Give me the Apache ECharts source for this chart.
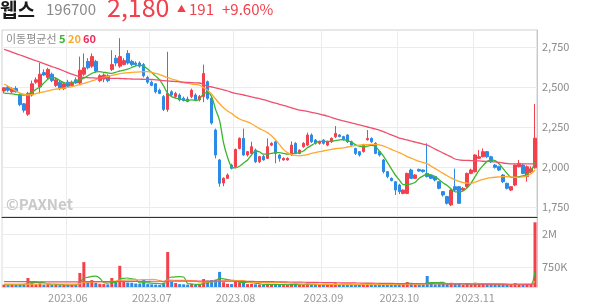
<!DOCTYPE html>
<html><head><meta charset="utf-8">
<script src="https://cdn.jsdelivr.net/npm/echarts@6/dist/echarts.min.js"></script>
<style>html,body{margin:0;padding:0;background:#fff}#c{width:594px;height:304px}</style>
</head><body><div id="c"></div>
<script>
// trading days per month (2023)
const mayDays = [9,10,11,12,15,16,17,18,19,22,23,24,25,26,30,31];
const junDays = [1,2,5,7,8,9,12,13,14,15,16,19,20,21,22,23,26,27,28,29,30];
const julDays = [3,4,5,6,7,10,11,12,13,14,17,18,19,20,21,24,25,26,27,28,31];
const augDays = [1,2,3,4,7,8,9,10,11,14,16,17,18,21,22,23,24,25,28,29,30,31];
const sepDays = [1,4,5,6,7,8,11,12,13,14,15,18,19,20,21,22,25,26,27];
const octDays = [4,5,6,10,11,12,13,16,17,18,19,20,23,24,25,26,27,30,31];
const novDays = [1,2,3,6,7,8,9,10,13,14,15,16,17,20,21,22];

const openP = [2475,2500,2470,2490,2450,2395,2330,2450,2530,2500,2590,2560,2580,2510,2530,2490,
2530,2510,2545,2525,2580,2660,2630,2660,2540,2550,2570,2610,2680,2630,2640,2710,2660,2650,2650,2640,2560,
2530,2520,2480,2440,2360,2470,2440,2450,2430,2425,2440,2450,2420,2440,2533,2430,2231,2044,1900,1929,2012,
2002,2116,2179,2075,2085,2106,2033,2065,2054,2137,2158,2075,2044,2044,2075,2148,2085,2127,2137,2200,2168,2148,
2168,2137,2158,2189,2200,2190,2200,2158,2116,2096,2096,2170,2179,2148,2096,2044,1971,1929,1908,
1887,1835,1835,1981,1929,1985,1981,1960,1950,1940,1908,1846,1815,1763,1877,1877,1856,1877,1960,
1971,2054,2064,2096,2064,2012,2002,1950,1898,1856,1887,2002,2012,1940,1970,1995];
const highP = [2500,2510,2500,2505,2460,2400,2470,2540,2560,2650,2610,2620,2590,2560,2540,2525,
2545,2540,2560,2690,2710,2680,2710,2670,2580,2585,2580,2730,2700,2805,2680,2730,2670,2660,2660,2650,2570,
2540,2525,2490,2450,2720,2480,2470,2460,2440,2440,2490,2460,2450,2640,2540,2440,2240,2050,1935,1960,2020,
2115,2185,2240,2100,2158,2115,2070,2075,2179,2155,2165,2080,2060,2060,2160,2155,2110,2155,2215,2210,2175,2165,
2175,2165,2185,2256,2205,2195,2205,2165,2120,2100,2145,2231,2185,2155,2100,2050,1975,1935,1912,
1895,1860,1965,1990,1955,1990,1985,2148,1955,1945,1912,1850,1820,1860,1990,1880,1875,1965,1990,
2080,2106,2116,2100,2070,2018,2008,1955,1902,1880,2015,2044,2020,2010,2005,2394];
const lowP = [2460,2470,2460,2465,2380,2340,2320,2440,2520,2460,2570,2550,2530,2500,2480,2480,
2500,2505,2520,2515,2570,2610,2620,2590,2530,2530,2530,2600,2630,2620,2635,2640,2630,2630,2620,2560,2520,
2505,2460,2455,2350,2345,2440,2430,2410,2410,2405,2430,2415,2410,2405,2420,2265,2054,1877,1880,1925,1985,
1995,2110,2070,2065,2080,2025,2025,2040,2050,2130,2023,2033,2040,2040,2070,2080,2080,2120,2130,2150,2140,2140,
2140,2130,2150,2180,2185,2165,2150,2130,2075,2065,2090,2165,2150,2080,2065,1960,1930,1910,1825,
1830,1830,1830,1925,1925,1970,1965,1935,1925,1910,1860,1815,1765,1755,1850,1770,1850,1870,1955,
1965,2050,2060,2055,2025,1990,1975,1900,1860,1850,1880,1998,1955,1908,1960,1990];
const closeP = [2495,2480,2490,2470,2390,2355,2460,2520,2545,2580,2575,2610,2540,2545,2490,2520,
2505,2530,2525,2605,2620,2620,2690,2600,2570,2575,2540,2640,2650,2690,2665,2650,2640,2640,2630,2570,2530,
2510,2470,2460,2360,2460,2450,2460,2420,2415,2410,2480,2420,2440,2585,2429,2275,2075,1898,1930,1950,1992,
2110,2179,2075,2096,2127,2033,2065,2044,2127,2148,2085,2054,2054,2054,2137,2085,2106,2148,2200,2158,2148,2158,
2148,2158,2179,2210,2190,2170,2158,2137,2085,2075,2137,2179,2158,2085,2075,1971,1940,1915,1856,
1846,1856,1960,1929,1950,1975,1971,1940,1929,1919,1867,1825,1773,1856,1856,1773,1867,1960,1981,
2075,2064,2096,2064,2033,1998,1981,1908,1867,1877,2012,2023,1960,2002,1989,2180];

const ma5 = [2462,2460,2457,2453,2450,2450,2455,2468,2485,2500,2525,2548,2560,2555,2540,2527,
2520,2525,2535,2544,2555,2570,2585,2595,2596,2592,2588,2585,2592,2600,2605,2612,2622,2632,2637,2630,2612,
2590,2568,2544,2505,2460,2440,2430,2425,2420,2415,2420,2415,2425,2460,2465,2440,2360,2290,2150,2060,2000,
1994,2005,2025,2044,2075,2100,2095,2080,2080,2085,2090,2090,2085,2080,2085,2085,2090,2100,2120,2135,2150,2160,
2160,2160,2160,2165,2170,2172,2165,2155,2140,2130,2125,2130,2135,2130,2100,2070,2030,1990,1950,
1920,1890,1890,1895,1905,1930,1945,1955,1950,1940,1920,1900,1885,1862,1845,1845,1850,1870,1900,
1940,1980,2010,2035,2045,2040,2020,1990,1960,1935,1935,1940,1945,1955,1975,2030];
const ma20 = [2519,2505,2490,2475,2462,2455,2450,2452,2458,2465,2470,2476,2482,2487,2490,2493,
2497,2502,2508,2515,2522,2530,2538,2546,2554,2560,2566,2572,2578,2583,2587,2590,2592,2593,2594,2596,2596,
2592,2585,2577,2568,2558,2550,2543,2535,2527,2522,2518,2515,2512,2495,2480,2455,2425,2395,2370,2350,2335,
2315,2300,2290,2282,2270,2255,2240,2228,2215,2195,2170,2140,2110,2090,2078,2072,2069,2072,2078,2085,2090,2096,
2100,2105,2110,2114,2117,2120,2125,2130,2134,2137,2139,2140,2141,2141,2138,2132,2122,2110,2100,
2090,2078,2065,2055,2045,2035,2028,2020,2005,1990,1975,1960,1945,1932,1920,1910,1903,1899,1898,
1905,1915,1923,1929,1933,1936,1938,1940,1940,1938,1936,1935,1938,1945,1958,1981];
const ma60 = [2736,2727,2718,2709,2700,2691,2682,2673,2664,2655,2646,2637,2628,2619,2610,2600,
2590,2580,2572,2564,2560,2558,2557,2556,2555,2555,2555,2554,2554,2553,2552,2551,2550,2549,2549,2548,2548,
2547,2545,2543,2540,2538,2536,2534,2532,2530,2529,2527,2526,2525,2515,2506,2500,2494,2488,2482,2475,2467,
2460,2455,2450,2444,2438,2432,2428,2421,2414,2406,2399,2392,2385,2378,2370,2363,2356,2352,2347,2342,2337,2331,
2325,2318,2310,2302,2294,2288,2282,2276,2269,2263,2257,2250,2244,2238,2231,2221,2211,2201,2191,
2181,2175,2169,2162,2156,2150,2143,2137,2125,2112,2100,2087,2075,2063,2050,2044,2042,2041,2040,
2039,2038,2036,2035,2034,2032,2029,2025,2022,2019,2019,2019,2019,2019,2019,2019];

// volume in thousands of shares
const volume = [90,70,85,75,110,120,340,160,100,140,90,110,80,90,70,80,
75,80,90,530,940,180,260,150,120,110,100,340,200,800,190,170,160,130,120,260,110,
100,90,85,160,1320,200,150,110,100,90,120,85,90,300,240,260,280,570,180,120,110,
250,180,200,110,120,100,90,80,120,90,110,80,70,75,120,100,80,90,130,100,80,75,
80,75,90,140,90,80,100,85,95,80,100,130,90,100,85,120,110,90,150,
130,100,190,130,90,80,85,415,130,100,110,120,110,160,120,130,80,120,90,
160,110,130,100,90,80,85,100,90,80,150,90,100,80,90,2440];
const volMa5 = [95,90,88,85,86,92,148,168,174,172,166,120,104,102,88,86,
79,79,79,171,343,364,400,412,330,164,148,176,174,310,326,340,304,290,154,168,156,
144,138,131,111,351,371,383,388,376,130,114,101,97,137,167,199,234,330,306,282,252,
246,182,172,170,172,142,120,100,102,96,98,94,94,85,89,89,89,93,104,100,96,95,
93,82,80,92,95,95,100,99,90,88,92,98,99,100,101,105,101,101,111,
120,116,134,140,128,118,115,160,168,162,168,175,114,120,124,128,120,122,108,
116,112,122,118,108,102,99,89,89,87,101,102,102,100,102,560];
const volMa20 = [110,110,109,109,108,108,110,112,112,114,114,115,114,114,113,112,
111,111,110,130,175,180,190,195,198,200,202,215,222,258,262,266,270,272,274,282,283,
284,283,240,195,256,257,252,250,248,247,237,232,186,191,194,199,206,229,225,230,229,
238,240,244,183,179,176,175,174,175,174,175,174,163,156,149,140,116,112,113,112,105,100,
97,97,96,97,98,98,97,97,96,96,97,97,96,95,95,97,96,96,100,
102,103,108,110,109,108,108,124,126,127,127,128,127,130,131,132,131,132,132,
133,131,130,128,124,120,118,117,100,98,100,99,98,96,94,209];
const volMa60 = [205,204,203,202,201,200,200,199,199,198,198,197,197,196,196,195,
195,194,194,196,200,201,202,203,204,205,206,207,208,210,211,212,213,214,214,215,215,
216,216,216,216,225,225,225,224,224,224,223,223,222,222,221,221,220,220,219,218,217,
216,215,214,212,210,208,206,204,202,200,198,196,193,190,188,185,182,180,177,174,172,170,
168,166,164,162,160,158,156,154,152,150,148,146,144,142,140,138,136,134,132,
130,128,127,126,125,124,123,124,124,123,122,121,120,119,118,117,116,115,114,
113,112,111,110,109,108,107,106,105,104,104,103,103,102,102,137];

const priceTicks = [1750, 2000, 2250, 2500, 2750];
const volTicks = [750, 2000];

const pad = n => (n < 10 ? '0' + n : '' + n);
const dates = [];
[[5, mayDays],[6, junDays],[7, julDays],[8, augDays],[9, sepDays],[10, octDays],[11, novDays]]
  .forEach(([m, days]) => days.forEach(d => dates.push('2023.' + pad(m) + '.' + pad(d))));
const monthStart = new Set();
dates.forEach((d, i) => { if (i > 0 && d.slice(0, 7) !== dates[i - 1].slice(0, 7)) monthStart.add(i); });
const isMonthStart = i => monthStart.has(i);

const UP = '#f2404d', DOWN = '#2b8be6';
const C5 = '#3cb531', C20 = '#ffa82b', C60 = '#f0506e';
const FONT = '"Noto Sans CJK KR", "Noto Sans", sans-serif';

const candleData = dates.map((d, i) => [openP[i], closeP[i], lowP[i], highP[i]]);
const volData = volume.map((v, i) => ({ value: v, itemStyle: { color: closeP[i] >= openP[i] ? UP : DOWN } }));

const chart = echarts.init(document.getElementById('c'), null, { renderer: 'canvas' });
const fmtComma = v => String(v).replace(/\B(?=(\d{3})+(?!\d))/g, ',');
const line = (name, data, color, xi, yi, w) => ({
  name, type: 'line', data, xAxisIndex: xi, yAxisIndex: yi, symbol: 'none', smooth: 0.3,
  lineStyle: { color, width: w }, z: 5, silent: true
});

chart.setOption({
  animation: false,
  backgroundColor: '#fff',
  textStyle: { fontFamily: FONT },
  grid: [
    { left: 2, right: 57, top: 30, height: 187, show: true, borderColor: '#cfcfcf', borderWidth: 1 },
    { left: 2, right: 57, top: 217, height: 70, show: true, borderColor: '#dcdcdc', borderWidth: 1 }
  ],
  xAxis: [
    { type: 'category', gridIndex: 0, data: dates, boundaryGap: true,
      axisLine: { show: true, lineStyle: { color: '#333', width: 1 } },
      axisTick: { show: false }, axisLabel: { show: false },
      splitLine: { show: true, interval: isMonthStart, lineStyle: { color: '#ececec' } } },
    { type: 'category', gridIndex: 1, data: dates, boundaryGap: true,
      axisLine: { show: true, lineStyle: { color: '#dcdcdc' } },
      axisTick: { show: false },
      axisLabel: { show: true, interval: isMonthStart, formatter: v => v.slice(0, 7),
        color: '#9a9a9a', fontSize: 11, margin: 5, fontFamily: FONT },
      splitLine: { show: true, interval: isMonthStart, lineStyle: { color: '#ececec' } } }
  ],
  yAxis: [
    { type: 'value', gridIndex: 0, position: 'right', min: 1687.5, max: 2856.25, scale: true,
      axisLine: { show: true, lineStyle: { color: '#c8c8c8' } },
      axisTick: { show: false, customValues: priceTicks },
      axisLabel: { customValues: priceTicks, formatter: fmtComma, color: '#8c8c8c', fontSize: 11, margin: 5, fontFamily: FONT },
      splitLine: { show: true, lineStyle: { color: '#ececec' } } },
    { type: 'value', gridIndex: 1, position: 'right', min: 0, max: 2640,
      axisLine: { show: true, lineStyle: { color: '#c8c8c8' } },
      axisTick: { show: false, customValues: volTicks },
      axisLabel: { customValues: volTicks, formatter: v => v >= 1000 ? (v / 1000) + 'M' : v + 'K',
        color: '#8c8c8c', fontSize: 11, margin: 5, fontFamily: FONT },
      splitLine: { show: true, lineStyle: { color: '#ececec' } } }
  ],
  series: [
    { name: 'price', type: 'candlestick', xAxisIndex: 0, yAxisIndex: 0, data: candleData, barWidth: 3,
      itemStyle: { color: UP, color0: DOWN, borderColor: UP, borderColor0: DOWN, borderWidth: 1 }, z: 3 },
    line('MA5', ma5, C5, 0, 0, 1.3),
    line('MA20', ma20, C20, 0, 0, 1.3),
    line('MA60', ma60, C60, 0, 0, 1.3),
    { name: 'volume', type: 'bar', xAxisIndex: 1, yAxisIndex: 1, data: volData, barWidth: 3, z: 3 },
    line('vMA5', volMa5, C5, 1, 1, 1.2),
    line('vMA20', volMa20, C20, 1, 1, 1.2),
    line('vMA60', volMa60, C60, 1, 1, 1.2)
  ],
  graphic: [
    { type: 'text', left: 0, top: 0, style: { text: '웹스', font: 'bold 19px ' + FONT, fill: '#1a1a1a' } },
    { type: 'text', left: 46, top: 2, style: { text: '196700', font: '15px ' + FONT, fill: '#8a8a8a' } },
    { type: 'text', left: 107, top: -5, style: { text: '2,180', font: '25px ' + FONT, fill: UP } },
    { type: 'text', left: 177, top: 4, style: { text: '▲', font: '9px ' + FONT, fill: UP } },
    { type: 'text', left: 189, top: 2, style: { text: '191', font: '15px ' + FONT, fill: UP } },
    { type: 'text', left: 222, top: 2, style: { text: '+9.60%', font: '15px ' + FONT, fill: UP } },
    { type: 'text', left: 6, top: 33, style: { text: '이동평균선', font: '11px ' + FONT, fill: '#8c8c8c' } },
    { type: 'text', left: 59, top: 33, style: { text: '5', font: 'bold 11px ' + FONT, fill: C5 } },
    { type: 'text', left: 68, top: 33, style: { text: '20', font: 'bold 11px ' + FONT, fill: C20 } },
    { type: 'text', left: 83, top: 33, style: { text: '60', font: 'bold 11px ' + FONT, fill: '#ee2b5a' } },
    { type: 'text', left: 6, top: 197, z: 1, style: { text: '©PAXNet', font: 'bold 15px ' + FONT, fill: '#c9c9c9' } }
  ]
});
</script></body></html>
